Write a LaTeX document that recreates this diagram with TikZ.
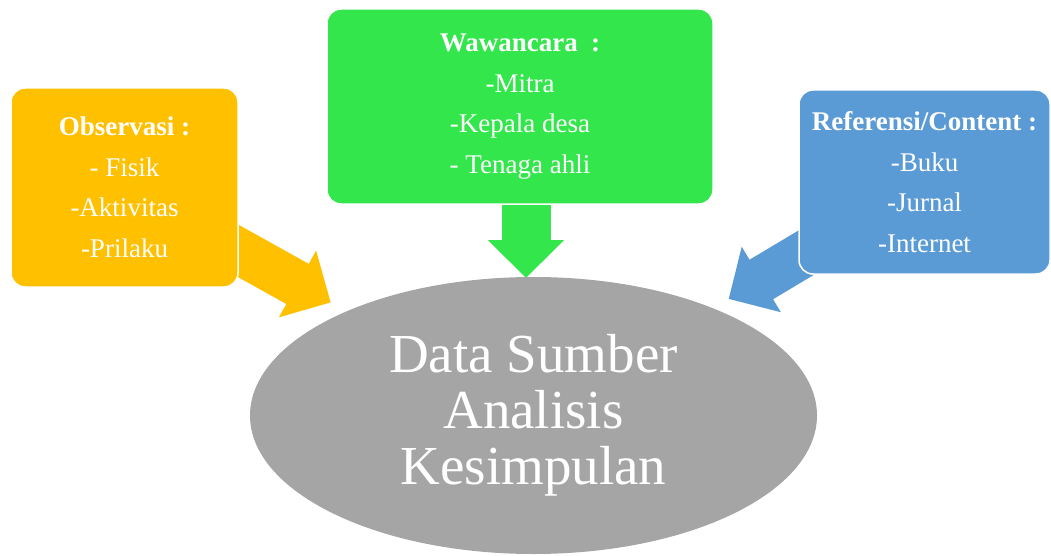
\documentclass[tikz,border=0pt]{standalone}
\usepackage{fontspec}
\setmainfont{Liberation Serif}
\usetikzlibrary{arrows.meta,shapes.geometric,backgrounds}
\definecolor{obsorange}{RGB}{255,192,0}
\definecolor{wawgreen}{RGB}{50,230,75}
\definecolor{refblue}{RGB}{91,155,213}
\definecolor{maingray}{RGB}{165,165,165}
\tikzset{
  srcbox/.style={rectangle,rounded corners=14pt,draw=white,line width=1.5pt,fill=#1,
                 text=white,align=center,inner sep=0pt,font=\fontsize{27pt}{40.5pt}\selectfont},
  srcbox/.default=obsorange,
  bigarr/.style={line width=46pt,draw=#1,-{Triangle[width=74pt,length=38pt]}},
}
\begin{document}
\begin{tikzpicture}[x=1pt,y=-1pt,
    mainell/.style={ellipse,fill=maingray,text=white,align=center,inner sep=0pt,
                    minimum width=567pt,minimum height=277pt,
                    font=\fontsize{55pt}{56pt}\selectfont},
  ]
    \useasboundingbox (0,0) rectangle (1051,556);
    \node[mainell] (main) at (533.5,415.5) {Data Sumber\\Analisis\\Kesimpulan};
    \node[srcbox=obsorange,minimum width=227pt,minimum height=199pt] (obs) at (124.5,187.5)
      {\textbf{Observasi :}\\- Fisik\\-Aktivitas\\-Prilaku};
    \node[srcbox=wawgreen,minimum width=386pt,minimum height=195pt] (waw) at (520,106.5)
      {\textbf{Wawancara\ \ :}\\-Mitra\\-Kepala desa\\- Tenaga ahli};
    \node[srcbox=refblue,minimum width=251pt,minimum height=184pt] (ref) at (924.5,182)
      {\textbf{Referensi/Content :}\\-Buku\\-Jurnal\\-Internet};
    \coordinate (wawtip) at (526,278);
    \begin{scope}[on background layer]
      \draw[bigarr=obsorange,shorten >=18pt] (obs.center) -- (main);
      \draw[bigarr=wawgreen,line width=49pt] (waw.center -| wawtip) -- (wawtip);
      \draw[bigarr=refblue,shorten >=18pt] (ref.center) -- (main);
    \end{scope}
  \end{tikzpicture}
\end{document}
